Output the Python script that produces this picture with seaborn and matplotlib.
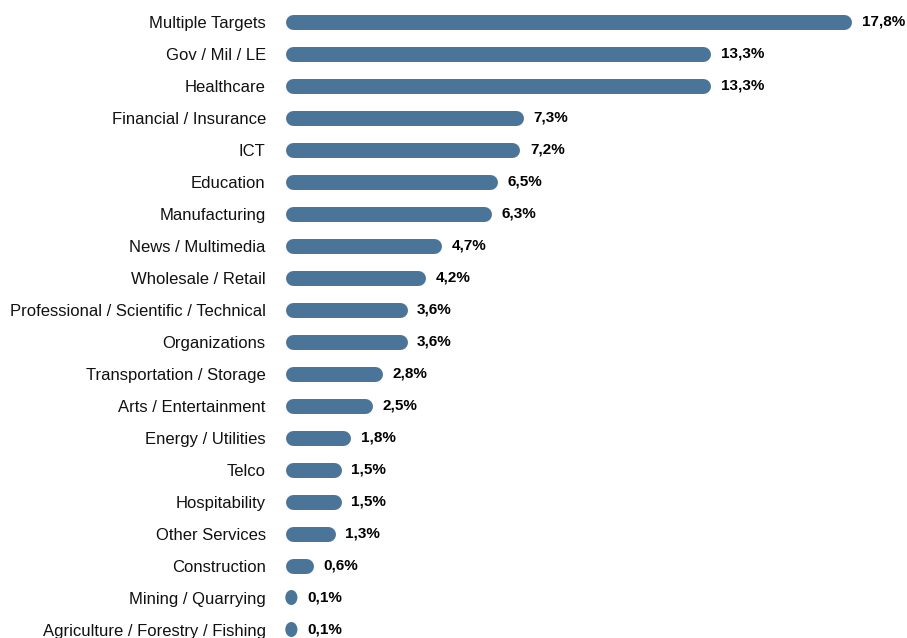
import matplotlib
matplotlib.use("Agg")
import matplotlib.pyplot as plt
from matplotlib.patches import Ellipse
import seaborn as sns
import pandas as pd

# ── Data ──────────────────────────────────────────────────────────────────────
sectors = [
    "Multiple Targets", "Gov / Mil / LE", "Healthcare", "Financial / Insurance",
    "ICT", "Education", "Manufacturing", "News / Multimedia",
    "Wholesale / Retail", "Professional / Scientific / Technical",
    "Organizations", "Transportation / Storage", "Arts / Entertainment",
    "Energy / Utilities", "Telco", "Hospitability", "Other Services",
    "Construction", "Mining / Quarrying", "Agriculture / Forestry / Fishing",
]
shares = [17.8, 13.3, 13.3, 7.3, 7.2, 6.5, 6.3, 4.7, 4.2, 3.6,
          3.6, 2.8, 2.5, 1.8, 1.5, 1.5, 1.3, 0.6, 0.1, 0.1]

BAR_COLOR = "#4b7499"
DPI = 100
W, H = 907, 638

df = pd.DataFrame({"sector": sectors, "share": shares})

sns.set_style("white")
plt.rcParams["font.family"] = ["Liberation Sans", "DejaVu Sans"]

fig = plt.figure(figsize=(W / DPI, H / DPI), dpi=DPI)
ax_left_px = 272
ax = fig.add_axes([ax_left_px / W, 0, 1 - ax_left_px / W, 1])

sns.barplot(data=df, x="share", y="sector", color=BAR_COLOR, ax=ax, width=0.45)

# pixel geometry: x=0 at 294.3px, 31.33 px per percent; rows 32px apart
zero_px, px_per, row_px = 294.3, 31.33, 32
ax.set_xlim((ax_left_px - zero_px) / px_per, (W - zero_px) / px_per)
ax.set_ylim(19 + 8.5 / row_px, -21.5 / row_px)

# ── Rounded bars: swap rectangles for round-capped lines ─────────────────────
bar_px = 15
r = bar_px / 2
lw = bar_px * 72 / DPI
left = -9 / px_per                 # bar body starts ~9px left of zero
for p in list(ax.patches):
    yc = p.get_y() + p.get_height() / 2
    w = p.get_width()
    p.set_visible(False)
    if (w - left) * px_per > bar_px:
        ax.plot([left + r / px_per, w - r / px_per], [yc, yc],
                color=BAR_COLOR, lw=lw, solid_capstyle="round", clip_on=False)
    else:
        ax.add_patch(Ellipse(((left + w) / 2, yc), w - left, bar_px / row_px,
                             color=BAR_COLOR, lw=0, clip_on=False))
    ax.annotate(f"{w:.1f}".replace(".", ",") + "%", (w, yc),
                xytext=(10 * 72 / DPI, 0),
                textcoords="offset points", va="center", ha="left",
                fontsize=11, fontweight="bold", color="black")

ax.set_xlabel("")
ax.set_ylabel("")
ax.set_xticks([])
ax.tick_params(axis="y", length=0, pad=4.5, labelsize=12, labelcolor="#111111")
sns.despine(ax=ax, left=True, bottom=True)

fig.savefig("out.png", dpi=DPI)
